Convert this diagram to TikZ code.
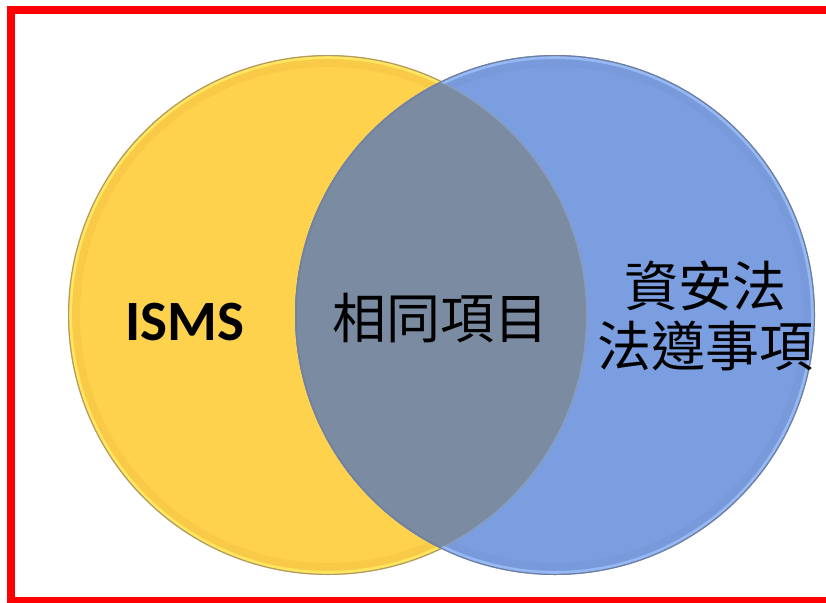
\documentclass[tikz,border=0pt]{standalone}
\usepackage{fontspec}
\newfontfamily\cjkfont{Noto Sans CJK TC}
\newfontfamily\latinfont{Carlito}
\definecolor{ycen}{HTML}{FFD24E}
\definecolor{ymid}{HTML}{F4C444}
\definecolor{yrim}{HTML}{FFE65E}
\definecolor{yedge}{HTML}{B09A68}
\definecolor{bcen}{HTML}{7A9EE0}
\definecolor{bmid}{HTML}{7798D6}
\definecolor{brim}{HTML}{96B8F4}
\definecolor{bedge}{HTML}{6E7E9E}
\definecolor{ovl}{HTML}{7A8BA2}
\tikzset{
  venn/.style={circle, minimum size=520pt, inner sep=0pt},
  cjklabel/.style={font=\cjkfont\fontsize{54}{60}\selectfont, align=center, inner sep=0pt, text=black},
  latinlabel/.style={font=\latinfont\bfseries\fontsize{57}{60}\selectfont, inner sep=0pt, text=black}
}
\begin{document}
\begin{tikzpicture}[x=1pt,y=-1pt]
\useasboundingbox (0,0) rectangle (826,602);
\clip (0,0) rectangle (826,602);
\fill[white] (0,0) rectangle (826,602);
\node[venn, fill=ycen] (isms) at (328,315) {};
\draw[ymid, line width=8pt, opacity=0.5] (isms.center) circle[radius=252];
\draw[yrim, line width=3pt] (isms.center) circle[radius=257.5];
\draw[yedge, line width=1.2pt] (isms.center) circle[radius=259.4];
\node[venn, fill=bcen] (law) at (555,315) {};
\draw[bmid, line width=8pt, opacity=0.5] (law.center) circle[radius=252];
\draw[brim, line width=3pt] (law.center) circle[radius=257.5];
\draw[bedge, line width=1.2pt] (law.center) circle[radius=259.4];
\begin{scope}
  \clip (328,315) circle[radius=258];
  \fill[ovl] (555,315) circle[radius=260];
  \draw[bedge, line width=1.5pt, opacity=0.7] (555,315) circle[radius=259];
\end{scope}
\begin{scope}
  \clip (555,315) circle[radius=258];
  \draw[yedge, line width=1.2pt, opacity=0.35] (328,315) circle[radius=259];
\end{scope}
\draw[red, line width=8pt] (11,10) rectangle (900,601);
\node[latinlabel] (t1) at (185,322) {ISMS};
\node[cjklabel] (t2) at (440,318) {相同項目};
\node[cjklabel] (t3) at (705,316) {資安法\\法遵事項};
\end{tikzpicture}
\end{document}
